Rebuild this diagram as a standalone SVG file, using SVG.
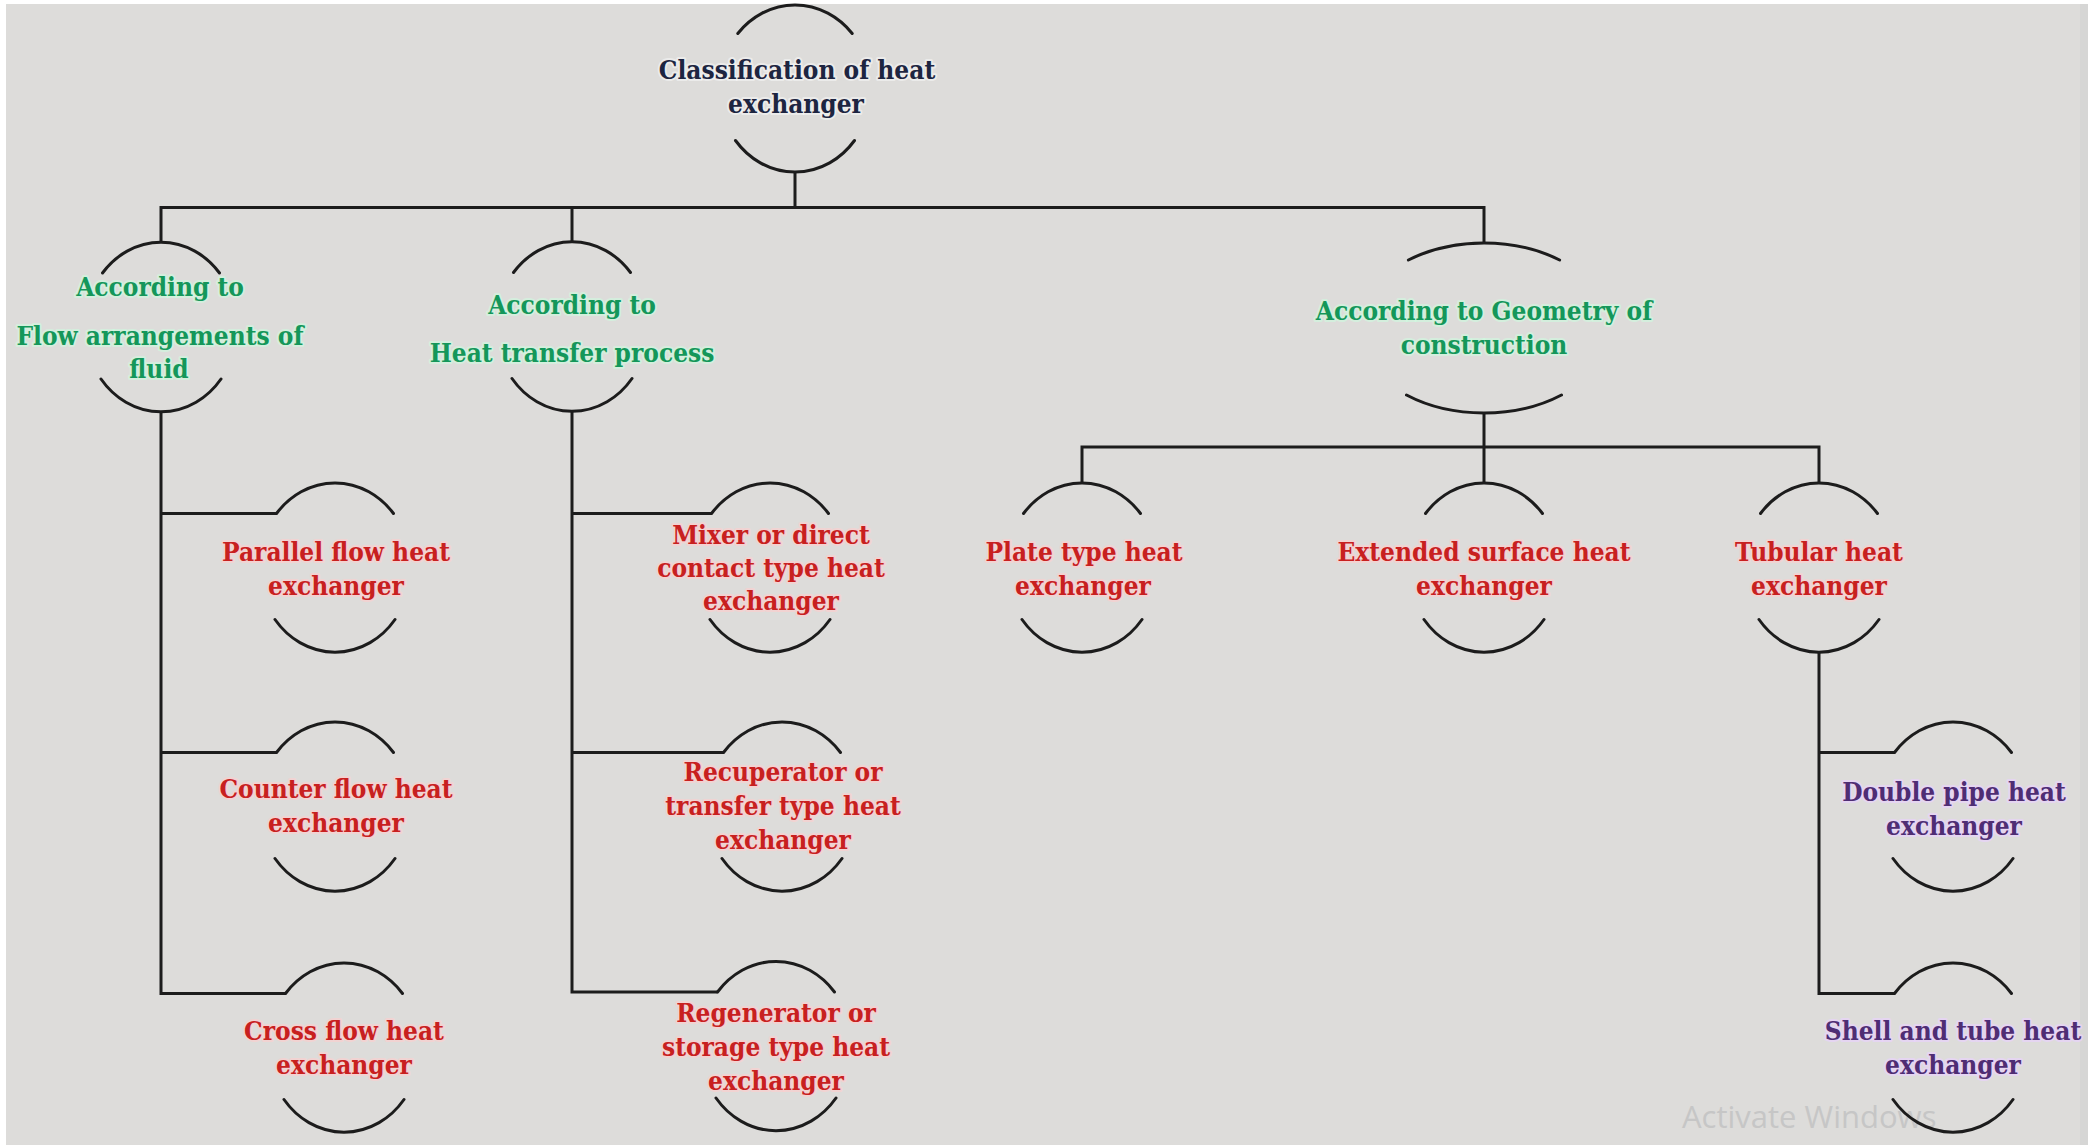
<svg xmlns="http://www.w3.org/2000/svg" width="2100" height="1145" viewBox="0 0 2100 1145">
<style>
  .bg { fill: #dddcda; }
  .arc { fill: none; stroke: #1c1c1c; stroke-width: 3; stroke-linecap: round; }
  .wire { fill: none; stroke: #1c1c1c; stroke-width: 3; stroke-linejoin: miter; }
  text { font-family: "DejaVu Serif", "Liberation Serif", serif; font-weight: bold; font-stretch: condensed; font-size: 26px; text-anchor: middle; paint-order: stroke; stroke-width: 4px; stroke-linejoin: round; }
  .navy { fill: #1d2541; stroke: rgba(255,255,255,0.45); }
  .green { fill: #14975a; stroke: rgba(205,255,225,0.55); }
  .red { fill: #c8201f; stroke: rgba(255,205,205,0.6); }
  .purple { fill: #4f2d74; stroke: rgba(235,210,255,0.65); }
  .wm { font-family: "Open Sans", "Liberation Sans", sans-serif; font-weight: normal; font-stretch: normal; font-size: 31px; fill: #c6c6c6; stroke: none; text-anchor: start; }
</style>
<rect width="2100" height="1145" fill="#ffffff"/>
<rect class="bg" x="6" y="4" width="2082" height="1141"/>
<rect x="2080" y="4" width="8" height="1141" fill="#d6d6d5"/>

<g id="connectors">
  <path class="wire" d="M795 172 V207.5 M161 242 V207.5 H1484 V243 M572 207.5 V241"/>
  <path class="wire" d="M161 412 V993.5 H285.5 M161 513.5 H276.5 M161 752.5 H276.5"/>
  <path class="wire" d="M572 412 V992 H717.5 M572 513.5 H711.5 M572 752.5 H723.5"/>
  <path class="wire" d="M1484 413 V483 M1082 483 V447 H1819 V483"/>
  <path class="wire" d="M1819 652 V993.5 H1894.5 M1819 752.5 H1894.5"/>
</g>

<g id="n-root">
  <path class="arc" d="M737.8 33.5 A76 83.5 0 0 1 852.2 33.5 M735.5 140.5 A76 83.5 0 0 0 854.5 140.5"/>
  <text class="navy" x="797" y="79">Classification of heat</text>
  <text class="navy" x="796" y="113">exchanger</text>
</g>

<g id="n-flow">
  <path class="arc" d="M102.5 273 A76 85 0 0 1 219.5 273 M101 379 A76 85 0 0 0 221 379"/>
  <text class="green" x="160" y="296">According to</text>
  <text class="green" x="160" y="345">Flow arrangements of</text>
  <text class="green" x="159" y="378">fluid</text>
</g>

<g id="n-process">
  <path class="arc" d="M513.5 272.5 A76 85 0 0 1 630.5 272.5 M512 378.5 A76 85 0 0 0 632 378.5"/>
  <text class="green" x="572" y="314">According to</text>
  <text class="green" x="572" y="362">Heat transfer process</text>
</g>

<g id="n-geometry">
  <path class="arc" d="M1408.4 260 A126 85 0 0 1 1559.6 260 M1406.5 395 A126 85 0 0 0 1561.5 395"/>
  <text class="green" x="1484" y="320">According to Geometry of</text>
  <text class="green" x="1484" y="354">construction</text>
</g>

<g id="n-parallel">
  <path class="arc" d="M276.5 513.5 A76 84.5 0 0 1 393.5 513.5 M275 619.5 A76 84.5 0 0 0 395 619.5"/>
  <text class="red" x="336" y="561">Parallel flow heat</text>
  <text class="red" x="336" y="595">exchanger</text>
</g>

<g id="n-counter">
  <path class="arc" d="M276.5 752.5 A76 84.5 0 0 1 393.5 752.5 M275 858.5 A76 84.5 0 0 0 395 858.5"/>
  <text class="red" x="336" y="798">Counter flow heat</text>
  <text class="red" x="336" y="832">exchanger</text>
</g>

<g id="n-cross">
  <path class="arc" d="M285.5 993.5 A76 84.5 0 0 1 402.5 993.5 M284 1099.5 A76 84.5 0 0 0 404 1099.5"/>
  <text class="red" x="344" y="1040">Cross flow heat</text>
  <text class="red" x="344" y="1074">exchanger</text>
</g>

<g id="n-mixer">
  <path class="arc" d="M711.5 513.5 A76 84.5 0 0 1 828.5 513.5 M710 619.5 A76 84.5 0 0 0 830 619.5"/>
  <text class="red" x="771" y="544">Mixer or direct</text>
  <text class="red" x="771" y="577">contact type heat</text>
  <text class="red" x="771" y="610">exchanger</text>
</g>

<g id="n-recuperator">
  <path class="arc" d="M723.5 752.5 A76 84.5 0 0 1 840.5 752.5 M722 858.5 A76 84.5 0 0 0 842 858.5"/>
  <text class="red" x="783" y="781">Recuperator or</text>
  <text class="red" x="783" y="815">transfer type heat</text>
  <text class="red" x="783" y="849">exchanger</text>
</g>

<g id="n-regenerator">
  <path class="arc" d="M717.5 992 A76 84.5 0 0 1 834.5 992 M716 1098 A76 84.5 0 0 0 836 1098"/>
  <text class="red" x="776" y="1022">Regenerator or</text>
  <text class="red" x="776" y="1056">storage type heat</text>
  <text class="red" x="776" y="1090">exchanger</text>
</g>

<g id="n-plate">
  <path class="arc" d="M1023.5 513.5 A76 84.5 0 0 1 1140.5 513.5 M1022 619.5 A76 84.5 0 0 0 1142 619.5"/>
  <text class="red" x="1084" y="561">Plate type heat</text>
  <text class="red" x="1083" y="595">exchanger</text>
</g>

<g id="n-extended">
  <path class="arc" d="M1425.5 513.5 A76 84.5 0 0 1 1542.5 513.5 M1424 619.5 A76 84.5 0 0 0 1544 619.5"/>
  <text class="red" x="1484" y="561">Extended surface heat</text>
  <text class="red" x="1484" y="595">exchanger</text>
</g>

<g id="n-tubular">
  <path class="arc" d="M1760.5 513.5 A76 84.5 0 0 1 1877.5 513.5 M1759 619.5 A76 84.5 0 0 0 1879 619.5"/>
  <text class="red" x="1819" y="561">Tubular heat</text>
  <text class="red" x="1819" y="595">exchanger</text>
</g>

<g id="n-doublepipe">
  <path class="arc" d="M1894.5 752.5 A76 84.5 0 0 1 2011.5 752.5 M1893 858.5 A76 84.5 0 0 0 2013 858.5"/>
  <text class="purple" x="1954" y="801">Double pipe heat</text>
  <text class="purple" x="1954" y="835">exchanger</text>
</g>

<text class="wm" x="1682" y="1128">Activate Windows</text>

<g id="n-shelltube">
  <path class="arc" d="M1894.5 993.5 A76 84.5 0 0 1 2011.5 993.5 M1893 1099.5 A76 84.5 0 0 0 2013 1099.5"/>
  <text class="purple" x="1953" y="1040">Shell and tube heat</text>
  <text class="purple" x="1953" y="1074">exchanger</text>
</g>
</svg>
